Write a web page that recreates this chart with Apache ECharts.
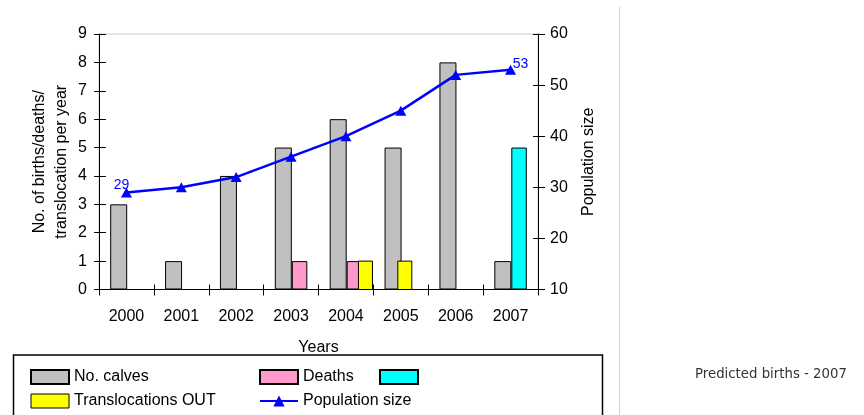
<!DOCTYPE html>
<html>
<head>
<meta charset="utf-8">
<script src="https://cdn.jsdelivr.net/npm/echarts@6/dist/echarts.min.js"></script>
<style>
  html, body { margin: 0; padding: 0; background: #fff; }
  #chart { width: 864px; height: 415px; }
</style>
</head>
<body>
<div id="chart"></div>
<script>
// Yearly herd records
const years = ['2000', '2001', '2002', '2003', '2004', '2005', '2006', '2007'];
const calves = [3, 1, 4, 5, 6, 5, 8, 1];
const deaths = [0, 0, 0, 1, 1, 0, 0, 0];
const predictedBirths = [0, 0, 0, 0, 0, 0, 0, 5];
const translocationsOut = [0, 0, 0, 0, 1, 1, 0, 0];
const populationSize = [29, 30, 32, 36, 40, 45, 52, 53];

const leftTicks = { min: 0, max: 9, interval: 1 };
const rightTicks = { min: 10, max: 60, interval: 10 };

const FONT = '"Liberation Sans", Arial, sans-serif';
const BLACK = '#000';

// empty cells stay empty instead of drawing flat bars
const gaps = arr => arr.map(v => (v ? v : '-'));

// translocation bars sit a little to the right of the calf bars in their year
const TRANSLOC_SHIFT = { 4: 19.5, 5: 4 };
const TRANSLOC_WIDTH = 14;

const chart = echarts.init(document.getElementById('chart'), null, { renderer: 'canvas' });

const axisText = { color: BLACK, fontFamily: FONT, fontSize: 16 };
const legendText = { color: BLACK, fontFamily: FONT, fontSize: 16, lineHeight: 16 };

const legendBase = {
  top: 369, orient: 'vertical', padding: 0, height: 46,
  itemWidth: 38, itemHeight: 14, itemGap: 8,
  textStyle: legendText
};

chart.setOption({
  backgroundColor: '#fff',
  animation: false,
  title: {
    text: 'Predicted births - 2007',
    left: 695,
    top: 368,
    padding: 0,
    textStyle: { fontFamily: '"DejaVu Sans", sans-serif', fontSize: 13.3, fontWeight: 'normal', color: '#333' }
  },
  grid: {
    left: 99, right: 326, top: 34, bottom: 125.5,
    show: true, borderColor: '#c8c8c8', borderWidth: 1, backgroundColor: 'transparent'
  },
  legend: [
    Object.assign({}, legendBase, {
      left: 30,
      data: [
        { name: 'No. calves', icon: 'rect' },
        { name: 'Translocations OUT', icon: 'rect', itemStyle: { color: '#ffff00', borderColor: BLACK, borderWidth: 1 } }
      ]
    }),
    Object.assign({}, legendBase, {
      left: 259,
      data: [{ name: 'Deaths', icon: 'rect' }, 'Population size']
    }),
    Object.assign({}, legendBase, {
      left: 379,
      formatter: () => '',
      data: [{ name: 'Predicted births - 2007', icon: 'rect' }]
    })
  ],
  graphic: [
    {
      type: 'rect', silent: true, z: -1,
      shape: { x: 13.5, y: 355, width: 589, height: 80 },
      style: { fill: '#fff', stroke: BLACK, lineWidth: 1.5 }
    },
    {
      type: 'line', silent: true,
      shape: { x1: 619.5, y1: 7, x2: 619.5, y2: 415 },
      style: { stroke: '#d4d4d4', lineWidth: 1 }
    }
  ],
  xAxis: [
    {
      type: 'category', data: years, position: 'bottom',
      name: 'Years', nameLocation: 'middle', nameGap: 50,
      nameTextStyle: axisText,
      axisLine: { lineStyle: { color: BLACK, width: 1 } },
      axisTick: { show: true, length: 6, lineStyle: { color: BLACK } },
      axisLabel: Object.assign({ margin: 19 }, axisText),
      splitLine: { show: false }
    },
    {
      type: 'category', data: years, position: 'bottom',
      axisLine: { show: false },
      axisTick: { show: true, inside: true, length: 5, lineStyle: { color: BLACK } },
      axisLabel: { show: false },
      splitLine: { show: false }
    }
  ],
  yAxis: [
    Object.assign({
      type: 'value', position: 'left',
      name: 'No. of births/deaths/\ntranslocation per year',
      nameLocation: 'middle', nameGap: 26, nameMoveOverlap: false,
      nameTextStyle: Object.assign({ lineHeight: 22 }, axisText),
      axisLine: { show: true, lineStyle: { color: BLACK, width: 1 } },
      axisTick: { show: true, length: 5, lineStyle: { color: BLACK } },
      axisLabel: Object.assign({ margin: 12 }, axisText),
      splitLine: { show: false }
    }, leftTicks),
    Object.assign({
      type: 'value', position: 'right',
      name: 'Population size',
      nameLocation: 'middle', nameGap: 43, nameMoveOverlap: false,
      nameTextStyle: axisText,
      axisLine: { show: true, lineStyle: { color: BLACK, width: 1 } },
      axisTick: { show: true, length: 7, lineStyle: { color: BLACK } },
      axisLabel: Object.assign({ margin: 12 }, axisText),
      splitLine: { show: false }
    }, rightTicks),
    Object.assign({
      type: 'value', position: 'left',
      axisLine: { show: false },
      axisTick: { show: true, inside: true, length: 7, lineStyle: { color: BLACK } },
      axisLabel: { show: false },
      splitLine: { show: false }
    }, leftTicks),
    Object.assign({
      type: 'value', position: 'right',
      axisLine: { show: false },
      axisTick: { show: true, inside: true, length: 5, lineStyle: { color: BLACK } },
      axisLabel: { show: false },
      splitLine: { show: false }
    }, rightTicks)
  ],
  series: [
    {
      name: 'No. calves', type: 'bar', xAxisIndex: 0, yAxisIndex: 0,
      data: calves, barWidth: 17, barGap: '0%',
      itemStyle: { color: '#c0c0c0', borderColor: BLACK, borderWidth: 1 }
    },
    {
      name: 'Deaths', type: 'bar', xAxisIndex: 0, yAxisIndex: 0, stack: 'second',
      data: gaps(deaths), barWidth: 15.5, barGap: '0%',
      itemStyle: { color: '#ff99cc', borderColor: BLACK, borderWidth: 1 }
    },
    {
      name: 'Predicted births - 2007', type: 'bar', xAxisIndex: 0, yAxisIndex: 0, stack: 'second',
      data: gaps(predictedBirths), barWidth: 15.5, barGap: '0%',
      itemStyle: { color: '#00ffff', borderColor: BLACK, borderWidth: 1 }
    },
    {
      name: 'Translocations OUT', type: 'custom', xAxisIndex: 0, yAxisIndex: 0, z: 3,
      itemStyle: { color: '#ffff00', borderColor: BLACK, borderWidth: 1 },
      data: translocationsOut.map((v, i) => [i, v]),
      encode: { x: 0, y: 1 },
      renderItem: function (params, api) {
        const i = api.value(0);
        const v = api.value(1);
        if (!v) return null;
        const top = api.coord([i, v]);
        const base = api.coord([i, 0]);
        const cx = top[0] + (TRANSLOC_SHIFT[i] || 0);
        return {
          type: 'rect',
          shape: { x: cx - TRANSLOC_WIDTH / 2, y: top[1], width: TRANSLOC_WIDTH, height: base[1] - top[1] },
          style: { fill: '#ffff00', stroke: BLACK, lineWidth: 1 }
        };
      }
    },
    {
      name: 'Population size', type: 'line', xAxisIndex: 0, yAxisIndex: 1, z: 5,
      symbol: 'triangle', symbolSize: [11, 10],
      lineStyle: { color: '#0000ff', width: 2.5 },
      itemStyle: { color: '#0000ff' },
      data: populationSize.map((v, i) => {
        const last = populationSize.length - 1;
        if (i === 0 || i === last) {
          return {
            value: v,
            label: {
              show: true, position: 'top',
              offset: i === 0 ? [-5, 10] : [10, 11],
              color: '#0000ff', fontFamily: FONT, fontSize: 14
            }
          };
        }
        return v;
      })
    }
  ]
});
</script>
</body>
</html>
